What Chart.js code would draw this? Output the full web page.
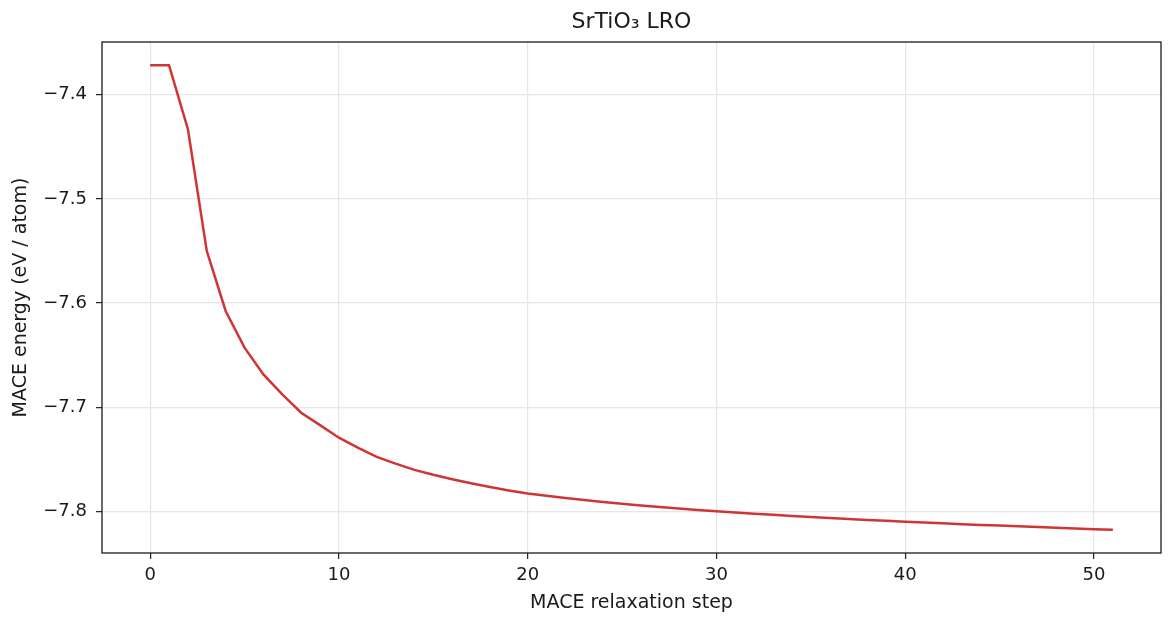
<!DOCTYPE html>
<html>
<head>
<meta charset="utf-8">
<title>SrTiO3 LRO</title>
<script src="https://cdn.jsdelivr.net/npm/chart.js@4.4.1/dist/chart.umd.min.js"></script>
<style>
    html, body { margin: 0; padding: 0; background: #ffffff; }
    #wrap { width: 1175px; height: 627px; }
</style>
</head>
<body>
<div id="wrap"><canvas id="energyChart" width="1175" height="627"></canvas></div>
<script>
// Relaxation steps and MACE energy per atom
const steps = [0, 1, 2, 3, 4, 5, 6, 7, 8, 9, 10, 11, 12, 13, 14, 15, 16, 17, 18, 19,
    20, 21, 22, 23, 24, 25, 26, 27, 28, 29, 30, 31, 32, 33, 34, 35, 36, 37, 38, 39,
    40, 41, 42, 43, 44, 45, 46, 47, 48, 49, 50, 51];
const energies = [-7.3717, -7.3717, -7.4330, -7.5500, -7.6077, -7.6429, -7.6686, -7.6878, -7.7054, -7.7173,
    -7.7294, -7.7390, -7.7478, -7.7543, -7.7603, -7.7650, -7.7692, -7.7731, -7.7767, -7.7800,
    -7.7830, -7.7852, -7.7873, -7.7893, -7.7912, -7.7929, -7.7945, -7.7960, -7.7974, -7.7987,
    -7.7999, -7.8011, -7.8023, -7.8034, -7.8045, -7.8055, -7.8065, -7.8074, -7.8083, -7.8092,
    -7.8100, -7.8108, -7.8116, -7.8124, -7.8131, -7.8138, -7.8145, -7.8152, -7.8159, -7.8165,
    -7.8172, -7.8178];

// Tick labels
const xTicks = [0, 10, 20, 30, 40, 50];
const yTicks = [-7.4, -7.5, -7.6, -7.7, -7.8];

const chartTitle = 'SrTiO\u2083 LRO';
const FONT = "'DejaVu Sans', 'Liberation Sans', sans-serif";
const INK = '#1a1a1a';

// Matplotlib-style 5% margins
const xMin = Math.min(...steps), xMax = Math.max(...steps);
const yMin = Math.min(...energies), yMax = Math.max(...energies);
const xPad = (xMax - xMin) * 0.05;
const yPad = (yMax - yMin) * 0.05;

// Axes box (all four spines) and a title centred over the plot area
const frameBox = {
    id: 'frameBox',
    afterDatasetsDraw(chart) {
        const a = chart.chartArea;
        const ctx = chart.ctx;
        ctx.save();
        ctx.strokeStyle = '#2b2b2b';
        ctx.lineWidth = 1.4;
        ctx.strokeRect(a.left, a.top, a.right - a.left, a.bottom - a.top);

        ctx.fillStyle = INK;
        ctx.font = '22px ' + FONT;
        ctx.textAlign = 'center';
        ctx.textBaseline = 'middle';
        ctx.fillText(chartTitle, (a.left + a.right) / 2, 22);
        ctx.restore();
    }
};

function fmtTick(v) {
    return v.toFixed(1).replace('-', '\u2212');
}

new Chart(document.getElementById('energyChart'), {
    type: 'line',
    data: {
        datasets: [{
            label: 'MACE energy',
            data: steps.map((s, i) => ({ x: s, y: energies[i] })),
            borderColor: '#d03535',
            borderWidth: 2.5,
            pointRadius: 0,
            tension: 0,
            fill: false
        }]
    },
    options: {
        responsive: false,
        animation: false,
        layout: {
            padding: { left: 0, right: 14, top: 42, bottom: 0 }
        },
        plugins: {
            legend: { display: false },
            tooltip: { enabled: false },
            title: { display: false }
        },
        scales: {
            x: {
                type: 'linear',
                min: xMin - xPad,
                max: xMax + xPad,
                afterFit: function(scale) { scale.height = 74; },
                afterBuildTicks: function(scale) {
                    scale.ticks = xTicks.map(v => ({ value: v }));
                },
                ticks: {
                    color: INK,
                    font: { family: FONT, size: 18 },
                    padding: 6,
                    maxRotation: 0,
                    callback: v => String(v)
                },
                grid: {
                    color: '#e6e6e6',
                    lineWidth: 1.2,
                    drawTicks: true,
                    tickLength: 6,
                    tickColor: '#2b2b2b',
                    tickWidth: 1.3
                },
                border: { display: false },
                title: {
                    display: true,
                    text: 'MACE relaxation step',
                    color: INK,
                    font: { family: FONT, size: 19 },
                    padding: { top: 4, bottom: 13 }
                }
            },
            y: {
                type: 'linear',
                min: yMin - yPad,
                max: yMax + yPad,
                afterFit: function(scale) { scale.width = 102; },
                afterBuildTicks: function(scale) {
                    scale.ticks = yTicks.map(v => ({ value: v }));
                },
                ticks: {
                    color: INK,
                    font: { family: FONT, size: 18 },
                    padding: 9,
                    callback: v => fmtTick(v)
                },
                grid: {
                    color: '#e6e6e6',
                    lineWidth: 1.2,
                    drawTicks: true,
                    tickLength: 6,
                    tickColor: '#2b2b2b',
                    tickWidth: 1.3
                },
                border: { display: false },
                title: {
                    display: true,
                    text: 'MACE energy (eV / atom)',
                    color: INK,
                    font: { family: FONT, size: 19 },
                    padding: { top: 10, bottom: 4 }
                }
            }
        }
    },
    plugins: [frameBox]
});
</script>
</body>
</html>
